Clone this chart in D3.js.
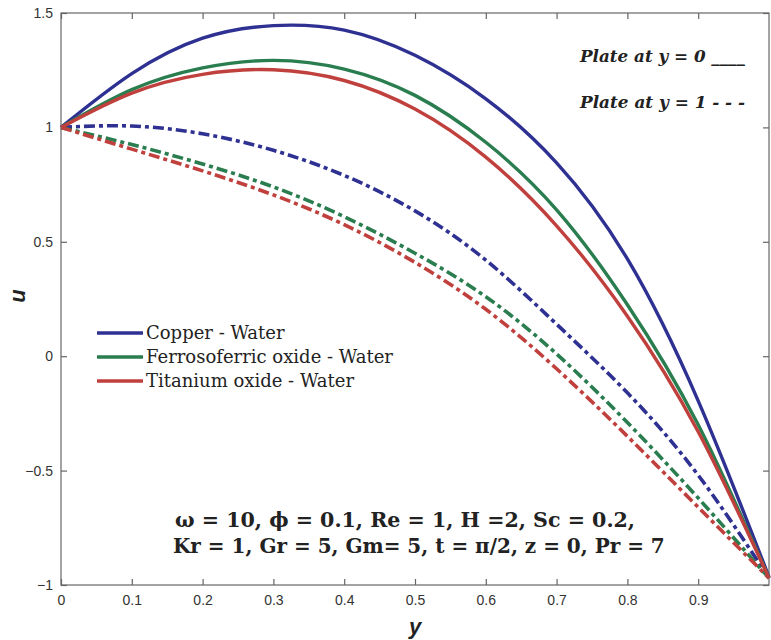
<!DOCTYPE html>
<html><head><meta charset="utf-8">
<script src="https://cdn.jsdelivr.net/npm/d3@7"></script>
<style>body{margin:0;background:#fff}svg{display:block}</style>
</head><body>
<script>
const yPos = [0,0.1,0.2,0.3,0.4,0.5,0.6,0.7,0.8,0.9,1.0];
// Plate at y = 0 (solid)
const cuSolid = [1.0,1.235,1.39,1.445,1.425,1.315,1.125,0.845,0.425,-0.195,-0.965];
const feSolid = [1.0,1.165,1.26,1.293,1.255,1.14,0.935,0.64,0.225,-0.30,-0.97];
const tiSolid = [1.0,1.15,1.232,1.252,1.205,1.08,0.87,0.57,0.175,-0.33,-0.97];
// Plate at y = 1 (dash-dot)
const cuDash = [1.0,1.006,0.972,0.90,0.79,0.635,0.42,0.14,-0.16,-0.52,-0.97];
const feDash = [1.0,0.925,0.84,0.74,0.61,0.45,0.26,0.01,-0.29,-0.62,-0.97];
const tiDash = [1.0,0.905,0.81,0.705,0.575,0.41,0.205,-0.055,-0.35,-0.66,-0.97];
const seriesNames = ["Copper - Water","Ferrosoferric oxide - Water","Titanium oxide - Water"];
const seriesColors = ["#2e3192","#2a7d4f","#c0403d"];
const xTicks = [0,0.1,0.2,0.3,0.4,0.5,0.6,0.7,0.8,0.9];
const yTicks = [-1,-0.5,0,0.5,1,1.5];

const W=771,H=640;
const svg=d3.select("body").append("svg").attr("width",W).attr("height",H);
const x=d3.scaleLinear().domain([0,1]).range([61,769]);
const y=d3.scaleLinear().domain([-1,1.5]).range([585,13]);
const axisColor="#666";

svg.append("rect").attr("x",61).attr("y",13).attr("width",708).attr("height",572)
  .attr("fill","none").attr("stroke",axisColor).attr("stroke-width",1.2);

const gx=svg.append("g").attr("transform","translate(0,585)")
  .call(d3.axisBottom(x).tickValues(xTicks).tickSize(-6).tickPadding(10).tickFormat(d=>d===0?"0":d3.format(".1f")(d)));
const gxt=svg.append("g").attr("transform","translate(0,13)")
  .call(d3.axisTop(x).tickValues(xTicks).tickSize(-6).tickFormat(""));
const gy=svg.append("g").attr("transform","translate(61,0)")
  .call(d3.axisLeft(y).tickValues(yTicks).tickSize(-6).tickPadding(8).tickFormat(d=>d3.format("")(d)));
const gyr=svg.append("g").attr("transform","translate(769,0)")
  .call(d3.axisRight(y).tickValues(yTicks).tickSize(-6).tickFormat(""));
[gx,gxt,gy,gyr].forEach(g=>{
  g.select(".domain").remove();
  g.selectAll("line").attr("stroke",axisColor).attr("stroke-width",1.2);
  g.selectAll("text").attr("fill","#333").style("font-family","Liberation Sans, Arial, sans-serif").style("font-size","14px");
});

const line=d3.line().x((d,i)=>x(yPos[i])).y(d=>y(d)).curve(d3.curveNatural);
const solids=[cuSolid,feSolid,tiSolid], dashes=[cuDash,feDash,tiDash];
dashes.forEach((s,i)=>{
  svg.append("path").attr("d",line(s)).attr("fill","none").attr("stroke",seriesColors[i])
    .attr("stroke-width",3.6).attr("stroke-dasharray","11,4,4,4");
});
solids.forEach((s,i)=>{
  svg.append("path").attr("d",line(s)).attr("fill","none").attr("stroke",seriesColors[i])
    .attr("stroke-width",3.4);
});

svg.append("text").attr("x",415).attr("y",634).attr("text-anchor","middle")
  .style("font-family","Liberation Sans, Arial, sans-serif").style("font-weight","bold").style("font-style","italic").style("font-size","22px").attr("fill","#222").text("y");
svg.append("text").attr("transform","translate(25,296) rotate(-90)").attr("text-anchor","middle")
  .style("font-family","Liberation Sans, Arial, sans-serif").style("font-weight","bold").style("font-style","italic").style("font-size","22px").attr("fill","#222").text("u");

function fit(t, w){
  const cur=parseFloat(t.style("font-size"));
  const len=t.node().getComputedTextLength();
  t.style("font-size",(cur*w/len).toFixed(2)+"px");
  return t;
}

const leg=svg.append("g");
seriesNames.forEach((n,i)=>{
  const ly=333+i*24;
  leg.append("line").attr("x1",97).attr("x2",143).attr("y1",ly).attr("y2",ly).attr("stroke",seriesColors[i]).attr("stroke-width",3.4);
  leg.append("text").attr("x",146).attr("y",ly+6).style("font-family","DejaVu Serif, serif").style("font-size","18px").attr("fill","#222").text(n);
});

const noteFont="DejaVu Serif, serif";
fit(svg.append("text").attr("x",580).attr("y",62).style("font-family",noteFont).style("font-style","italic").style("font-weight","bold").style("font-size","16px").attr("fill","#222").text("Plate at y = 0 ____"),165);
fit(svg.append("text").attr("x",580).attr("y",108).style("font-family",noteFont).style("font-style","italic").style("font-weight","bold").style("font-size","16px").attr("fill","#222").text("Plate at y = 1 - - -"),165);

fit(svg.append("text").attr("x",175).attr("y",527).style("font-family",noteFont).style("font-weight","bold").style("font-size","18px").attr("fill","#222")
  .text("ω = 10, ϕ = 0.1, Re = 1, H =2, Sc = 0.2,"),460);
fit(svg.append("text").attr("x",173).attr("y",553).style("font-family",noteFont).style("font-weight","bold").style("font-size","18px").attr("fill","#222")
  .text("Kr = 1, Gr = 5, Gm= 5, t = π/2, z = 0, Pr = 7"),492);
</script>
</body></html>
